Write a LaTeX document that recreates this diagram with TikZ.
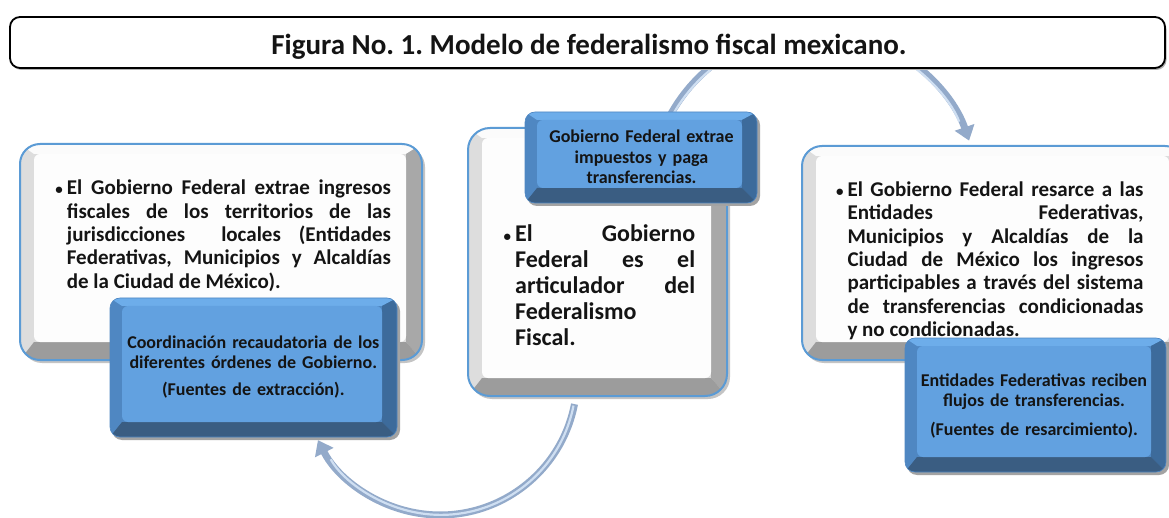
\documentclass[tikz,border=0pt]{standalone}
\usepackage{fontspec}
\setmainfont{Carlito}
\usetikzlibrary{arrows.meta}
\hyphenpenalty=10000
\exhyphenpenalty=10000
\frenchspacing
\definecolor{txt}{HTML}{141414}
\definecolor{wLc}{HTML}{DDDDDD}
\definecolor{wTc}{HTML}{FBFBFB}
\definecolor{wRc}{HTML}{A8A8A8}
\definecolor{wBc}{HTML}{9C9C9C}
\definecolor{wFc}{HTML}{FDFDFD}
\definecolor{wSc}{HTML}{C4C4C4}
\definecolor{wEc}{HTML}{5B9BD5}
\definecolor{bLc}{HTML}{4F87C2}
\definecolor{bTc}{HTML}{6DADEA}
\definecolor{bRc}{HTML}{3D6B9B}
\definecolor{bBc}{HTML}{3A5D82}
\definecolor{bFc}{HTML}{62A1E0}
\definecolor{bSc}{HTML}{A3A3A3}
\definecolor{arrowcol}{HTML}{93AACA}
\definecolor{arrowhi}{HTML}{CFDFF2}
\newcommand\whitecols{\colorlet{bvL}{wLc}\colorlet{bvT}{wTc}\colorlet{bvR}{wRc}\colorlet{bvB}{wBc}\colorlet{bvF}{wFc}\colorlet{bvS}{wSc}\colorlet{bvE}{wEc}\def\bvEw{2}}
\newcommand\bluecols{\colorlet{bvL}{bLc}\colorlet{bvT}{bTc}\colorlet{bvR}{bRc}\colorlet{bvB}{bBc}\colorlet{bvF}{bFc}\colorlet{bvS}{bSc}\colorlet{bvE}{bLc}\def\bvEw{0.6}}
% #1 x1 #2 y1 #3 x2 #4 y2 #5 radius #6 L #7 T #8 R #9 B
\newcommand\mybevel[9]{%
  \fill[bvS,rounded corners=#5pt] (#1+2,#2+3) rectangle (#3+3,#4+3);
  \begin{scope}
    \clip[rounded corners=#5pt] (#1,#2) rectangle (#3,#4);
    \fill[bvL] (#1,#2) rectangle (#3,#4);
    \fill[bvT] (#1,#2) -- (#3,#2) -- (#3-#8,#2+#7) -- (#1+#6,#2+#7) -- cycle;
    \fill[bvR] (#3,#2) -- (#3,#4) -- (#3-#8,#4-#9) -- (#3-#8,#2+#7) -- cycle;
    \fill[bvB] (#1,#4) -- (#3,#4) -- (#3-#8,#4-#9) -- (#1+#6,#4-#9) -- cycle;
    \fill[bvF,rounded corners=6pt] (#1+#6,#2+#7) rectangle (#3-#8,#4-#9);
  \end{scope}
  \draw[bvE,line width=\bvEw,rounded corners=#5pt] (#1,#2) rectangle (#3,#4);
}
\tikzset{
  bodytext/.style={anchor=base west, inner sep=0pt, align=justify, text=txt,
    font=\bfseries\fontsize{21}{23.3}\selectfont},
  bluetext/.style={anchor=base, inner sep=0pt, align=center, text=txt,
    font=\bfseries\fontsize{18}{20.5}\selectfont},
  bigarrow/.style={line width=7pt, draw=arrowcol, -{Triangle[width=20pt,length=14pt]}},
  arrowshine/.style={line width=2.2pt, draw=arrowhi},
  titlebox/.style={draw=black, line width=1.8pt, fill=white, rounded corners=10pt}
}
\newcommand\bul{\makebox[0pt][r]{{\fontsize{15}{15}\selectfont\textbullet}\hspace{4pt}}}
\begin{document}
\begin{tikzpicture}[x=1pt,y=-1pt]
\useasboundingbox (0,0) rectangle (1169,518);
\fill[white] (0,0) rectangle (1169,518);

% curved arrows
\coordinate (a1s) at (665.4,124.7);
\coordinate (a2s) at (574.5,404.1);
\draw[bigarrow] (a1s) arc[start angle=205, end angle=341, radius=164];
\draw[arrowshine, shorten >=16pt] ([xshift=1.5pt,yshift=-1.5pt]a1s) arc[start angle=205, end angle=339, radius=162];
\draw[bigarrow] (a2s) arc[start angle=11, end angle=153, radius=137];
\draw[arrowshine, shorten >=16pt] ([xshift=-1pt,yshift=-1.5pt]a2s) arc[start angle=11, end angle=151, radius=135];

% left
\whitecols\mybevel{20}{144}{422}{360}{20}{14}{10}{16}{18}
\bluecols\mybevel{110}{298}{397}{437}{10}{12}{8}{15}{15}
\node[bodytext, text width=324pt] (ltext) at (66.7,195) {\bul El Gobierno Federal extrae ingresos\linebreak fiscales de los territorios de las\linebreak jurisdicciones\ \ locales (Entidades\linebreak Federativas, Municipios y Alcaldías\linebreak de la Ciudad de México).};
\node[bluetext, text width=280pt] (lblue) at (253.3,348.3) {Coordinación recaudatoria de los\\ diferentes órdenes de Gobierno.\\[6.4pt] (Fuentes de extracción).};

% center
\whitecols\mybevel{468}{128}{727}{396}{22}{14}{10}{16}{18}
\bluecols\mybevel{525}{112}{757}{203}{10}{12}{8}{15}{15}
\node[bluetext, text width=220pt] (cblue) at (641.5,142.7) {Gobierno Federal extrae\\ impuestos y paga\\ transferencias.};
\node[bodytext, text width=180pt, font=\bfseries\fontsize{24}{26}\selectfont] (ctext) at (515,241.7) {\bul El Gobierno\linebreak Federal es el\linebreak articulador del\linebreak Federalismo\\ Fiscal.};

% right
\whitecols\mybevel{802}{146}{1185}{360}{20}{14}{10}{16}{18}
\bluecols\mybevel{905}{338}{1166}{472}{10}{12}{8}{15}{15}
\node[bodytext, text width=296pt] (rtext) at (847.3,196.7) {\bul El Gobierno Federal resarce a las\linebreak Entidades Federativas,\linebreak Municipios y Alcaldías de la\linebreak Ciudad de México los ingresos\linebreak participables a través del sistema\linebreak de transferencias condicionadas\linebreak y no condicionadas.};
\node[bluetext, text width=250pt, font=\bfseries\fontsize{18}{20}\selectfont] (rblue) at (1034,386.7) {Entidades Federativas reciben\\ flujos de transferencias.\\[8.3pt] (Fuentes de resarcimiento).};

% title
\fill[gray!60, rounded corners=10pt] (11.5,19) rectangle (1166.5,70);
\draw[titlebox] (10,17) rectangle (1165,68);
\node[anchor=base, inner sep=0pt, text=txt, font=\bfseries\fontsize{29}{32}\selectfont] (title) at (589,55) {Figura No. 1. Modelo de federalismo fiscal mexicano.};
\end{tikzpicture}
\end{document}
